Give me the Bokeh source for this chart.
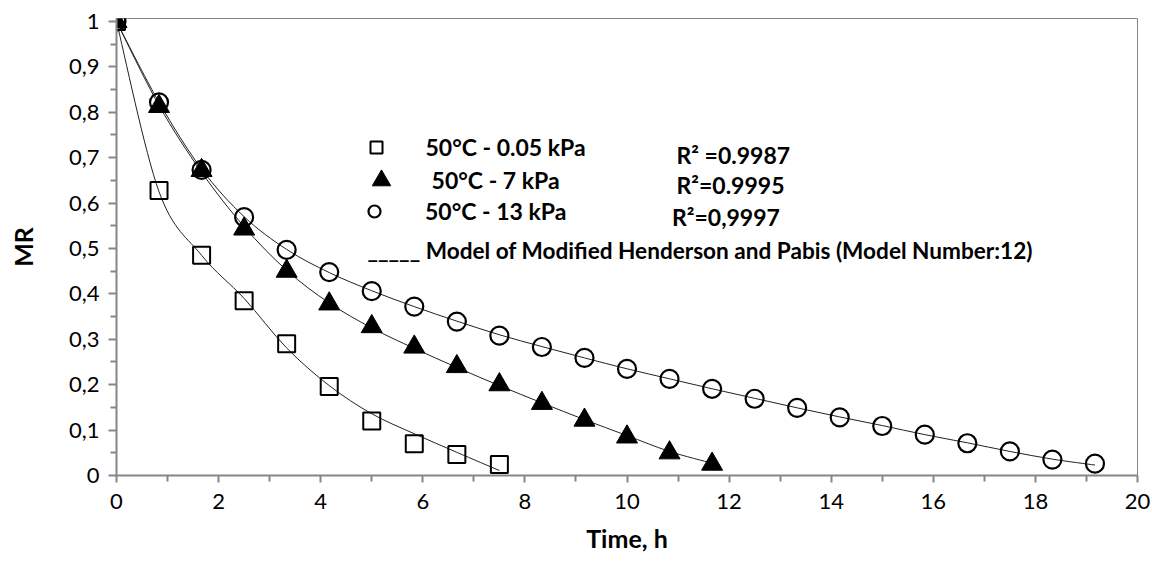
import numpy as np
from bokeh.plotting import figure
from bokeh.models import Range1d, FixedTicker, Label, Legend, LegendItem
from bokeh.embed import file_html
from bokeh.resources import INLINE

# ---------------- data ----------------
time_h = [0, 0.833, 1.667, 2.5, 3.333, 4.167, 5, 5.833, 6.667, 7.5, 8.333, 9.167,
          10, 10.833, 11.667, 12.5, 13.333, 14.167, 15, 15.833, 16.667, 17.5, 18.333, 19.167]

mr_005kpa = [1.0, 0.628, 0.485, 0.385, 0.290, 0.196, 0.120, 0.070, 0.046, 0.024]
model_005kpa = [1.0, 0.625, 0.485, 0.390, 0.281, 0.198, 0.136, 0.092, 0.051, 0.011]

mr_7kpa = [1.0, 0.813, 0.672, 0.543, 0.450, 0.378, 0.328, 0.283, 0.240, 0.200,
           0.159, 0.122, 0.085, 0.050, 0.025]
model_7kpa = [1.0, 0.815, 0.668, 0.548, 0.452, 0.380, 0.325, 0.280, 0.238, 0.198,
              0.160, 0.123, 0.088, 0.053, 0.027]

mr_13kpa = [1.0, 0.822, 0.673, 0.569, 0.497, 0.448, 0.406, 0.372, 0.339, 0.308,
            0.283, 0.259, 0.235, 0.213, 0.191, 0.169, 0.149, 0.128, 0.109, 0.090,
            0.071, 0.053, 0.035, 0.026]
model_13kpa = [1.0, 0.822, 0.675, 0.570, 0.498, 0.447, 0.407, 0.372, 0.340, 0.310,
               0.284, 0.259, 0.235, 0.213, 0.191, 0.170, 0.149, 0.129, 0.110, 0.090,
               0.072, 0.053, 0.036, 0.023]

series_labels = ["50°C - 0.05 kPa", " 50°C - 7 kPa", "50°C - 13 kPa"]
r2_labels = ["R² =0.9987", "R²=0.9995", "R²=0,9997"]
model_label = "_____ Model of Modified Henderson and Pabis (Model Number:12)"

x_ticks = [0, 2, 4, 6, 8, 10, 12, 14, 16, 18, 20]
x_minor = [1, 3, 5, 7, 9, 11, 13, 15, 17, 19]
y_ticks = [0, 0.1, 0.2, 0.3, 0.4, 0.5, 0.6, 0.7, 0.8, 0.9, 1]
y_tick_labels = ["0", "0,1", "0,2", "0,3", "0,4", "0,5", "0,6", "0,7", "0,8", "0,9", "1"]
y_minor = [0.05, 0.15, 0.25, 0.35, 0.45, 0.55, 0.65, 0.75, 0.85, 0.95]

# ---------------- styling ----------------
FONT = "Lato"
AXIS_GRAY = "#868686"
FRAME_W, FRAME_H = 1021, 457

p = figure(width=1152, height=561, frame_width=FRAME_W, frame_height=FRAME_H,
           x_range=Range1d(0, 20), y_range=Range1d(0, 1.0066),
           output_backend="svg", toolbar_location=None,
           min_border_left=116, min_border_right=15, min_border_top=18, min_border_bottom=86)
p.background_fill_color = "white"
p.border_fill_color = "white"
p.outline_line_color = AXIS_GRAY
p.outline_line_width = 1
p.xgrid.visible = False
p.ygrid.visible = False

for ax in (p.xaxis[0], p.yaxis[0]):
    ax.axis_line_color = AXIS_GRAY
    ax.axis_line_width = 2
    ax.major_tick_line_color = AXIS_GRAY
    ax.minor_tick_line_color = AXIS_GRAY
    ax.major_tick_line_width = 2
    ax.minor_tick_line_width = 2
    ax.major_tick_in = 0
    ax.minor_tick_in = 0
    ax.major_label_text_font = FONT
    ax.major_label_text_font_size = "22px"
    ax.major_label_text_color = "black"
    ax.axis_label_text_font = FONT
    ax.axis_label_text_font_style = "bold"
    ax.axis_label_text_font_size = "25px"
    ax.axis_label_text_color = "black"

p.xaxis.ticker = FixedTicker(ticks=x_ticks, minor_ticks=x_minor)
p.yaxis.ticker = FixedTicker(ticks=y_ticks, minor_ticks=y_minor)
p.yaxis.major_label_overrides = dict(zip(y_ticks, y_tick_labels))
p.xaxis.major_tick_out = 7
p.xaxis.minor_tick_out = 6
p.yaxis.major_tick_out = 8
p.yaxis.minor_tick_out = 6
p.yaxis.major_label_standoff = 9
p.xaxis.major_label_standoff = 11
p.xaxis.axis_label = "Time, h"
p.yaxis.axis_label = "MR"
p.xaxis.axis_label_standoff = 11
p.yaxis.axis_label_standoff = 28


# smooth model curve (Excel-like smoothed line) through the model values
def smooth_curve(xs, ys):
    x = np.asarray(xs, float)
    y = np.asarray(ys, float)
    xp = np.concatenate([[x[0]], x, [x[-1]]])
    yp = np.concatenate([[y[0]], y, [y[-1]]])
    n = len(x) - 1
    i = np.arange(n)
    x0, y0 = x[:-1], y[:-1]
    x1, y1 = x[1:], y[1:]
    cx0 = x0 + (xp[i + 2] - xp[i]) / 6.0
    cy0 = y0 + (yp[i + 2] - yp[i]) / 6.0
    cx1 = x1 - (xp[i + 3] - xp[i + 1]) / 6.0
    cy1 = y1 - (yp[i + 3] - yp[i + 1]) / 6.0
    p.bezier(x0=x0, y0=y0, x1=x1, y1=y1, cx0=cx0, cy0=cy0, cx1=cx1, cy1=cy1,
             line_color="#222222", line_width=1)


smooth_curve(time_h[:len(model_005kpa)], model_005kpa)
smooth_curve(time_h[:len(model_7kpa)], model_7kpa)
smooth_curve(time_h[:len(model_13kpa)], model_13kpa)

r_sq = p.scatter(time_h[:len(mr_005kpa)], mr_005kpa, marker="square", size=17,
                 fill_color=None, line_color="black", line_width=2)
r_tri = p.scatter(time_h[:len(mr_7kpa)], mr_7kpa, marker="triangle", size=21,
                  fill_color="black", line_color="black", line_width=1)
r_circ = p.scatter(time_h[:len(mr_13kpa)], mr_13kpa, marker="circle", size=18,
                   fill_color=None, line_color="black", line_width=2.2)

# ---------------- legend ----------------
FL, FB = 116, 475  # frame left / bottom in page pixels (for placing the legend)


def add_legend(renderer, label, cx, cy, g, text_x):
    leg = Legend(items=[LegendItem(label=label, renderers=[renderer])],
                 location=(cx - g / 2 - FL, FB - (cy + g / 2)),
                 glyph_width=g, glyph_height=g, label_standoff=int(text_x - (cx + g / 2)),
                 padding=0, margin=0, spacing=0,
                 border_line_color=None, background_fill_alpha=0,
                 label_text_font=FONT, label_text_font_style="bold",
                 label_text_font_size="23px", label_text_color="black")
    p.add_layout(leg, "center")


add_legend(r_sq, series_labels[0], 375.5, 146.5, 30, 426)
add_legend(r_tri, series_labels[1], 381, 180, 46, 426)
add_legend(r_circ, series_labels[2], 374, 210.5, 30, 425)

r2_pos = [(676, 154), (676, 184.5), (671.5, 216.5)]
for (px, py), txt in zip(r2_pos, r2_labels):
    p.add_layout(Label(x=px - FL, y=FB - py, x_units="screen", y_units="screen", text=txt,
                       text_font=FONT, text_font_style="bold", text_font_size="23px",
                       text_color="black", text_align="left", text_baseline="alphabetic"))

p.add_layout(Label(x=367 - FL, y=FB - 249.5, x_units="screen", y_units="screen", text=model_label,
                   text_font=FONT, text_font_style="bold", text_font_size="22.6px",
                   text_color="black", text_align="left", text_baseline="alphabetic"))

open("out.html", "w").write(file_html(p, INLINE))
